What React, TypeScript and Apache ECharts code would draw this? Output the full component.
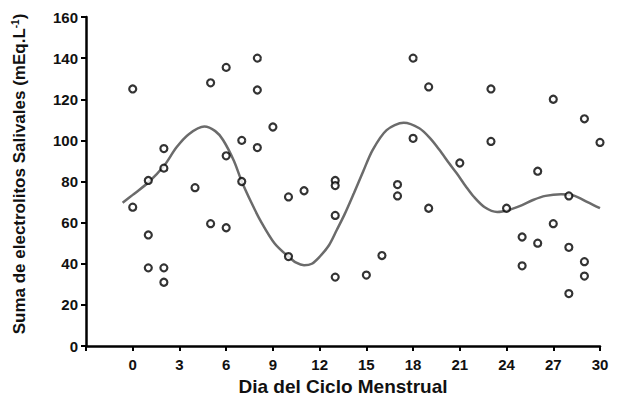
import React, { useEffect, useRef } from "react";
import * as echarts from "echarts";

// Scatter observations (day of menstrual cycle, salivary electrolytes sum)
const pointDays = [
  0, 0,
  1, 1, 1,
  2, 2, 2, 2,
  4,
  5, 5,
  6, 6, 6,
  7, 7,
  8, 8, 8,
  9,
  10, 10,
  11,
  13, 13, 13, 13,
  15,
  16,
  17, 17,
  18, 18,
  19, 19,
  21,
  23, 23,
  24,
  25, 25,
  26, 26,
  27, 27,
  28, 28, 28,
  29, 29, 29,
  30,
];
const pointValues = [
  125, 67.5,
  80.5, 54, 38,
  96, 86.5, 38, 31,
  77,
  128, 59.5,
  135.5, 92.5, 57.5,
  100, 80,
  140, 124.5, 96.5,
  106.5,
  72.5, 43.5,
  75.5,
  80.5, 78, 63.5, 33.5,
  34.5,
  44,
  78.5, 73,
  140, 101,
  126, 67,
  89,
  125, 99.5,
  67,
  53, 39,
  85, 50,
  120, 59.5,
  73, 48, 25.5,
  110.5, 41, 34,
  99,
];

// Fitted curve
const curveDays = [
  -0.65, 0, 1, 2, 2.8, 3.6, 4.6, 5.3, 5.8, 6.5, 7, 7.6, 8.2, 9.1, 10, 10.5, 11,
  11.5, 12, 12.6, 13.1, 13.6, 14.2, 14.8, 15.4, 16.3, 17.4, 18.4, 19.1, 19.7,
  20.3, 20.8, 21.4, 21.9, 22.6, 23.4, 24.2, 25, 25.7, 26.5, 27.5, 28.3, 29.2, 30,
];
const curveValues = [
  69.7, 73.5, 79.5, 87.5, 96.5, 103, 106.7, 104.5, 100.2, 90, 80, 70, 61, 50,
  43.4, 40.5, 39.3, 40, 43.4, 49, 56.4, 64, 74.3, 85, 95.3, 105, 108.6, 105.9,
  101, 95.3, 89, 84, 77.5, 72.6, 67.5, 65.2, 66.3, 68.5, 71, 73, 73.8, 73.2, 70,
  67,
];

const xTitle = "Dia del Ciclo Menstrual";
const yTitleMain = "Suma de electrolitos Salivales (mEq.L";
const yTitleSup = "-1";
const yTitleEnd = ")";

const FONT = "'Liberation Sans', Arial, Helvetica, sans-serif";

export default function App() {
  const ref = useRef<HTMLDivElement>(null);

  useEffect(() => {
    document.body.style.margin = "0";
    if (!ref.current) return;
    const chart = echarts.init(ref.current, undefined, { renderer: "svg" });

    const scatterData = pointDays.map((d, i) => [d, pointValues[i]]);
    const curveData = curveDays.map((d, i) => [d, curveValues[i]]);

    chart.setOption({
      animation: false,
      backgroundColor: "#ffffff",
      textStyle: { fontFamily: FONT },
      grid: {
        left: 86,
        right: 18,
        top: 17,
        bottom: 50,
        containLabel: false,
        outerBoundsMode: "none",
      },
      xAxis: {
        type: "value",
        min: -3,
        max: 30,
        interval: 3,
        name: xTitle,
        nameLocation: "middle",
        nameGap: 31,
        nameTextStyle: {
          fontFamily: FONT,
          fontWeight: "bold",
          fontSize: 19,
          color: "#111",
        },
        axisLine: { show: true, onZero: false, lineStyle: { color: "#000", width: 2.5 } },
        axisTick: { show: true, length: 5, lineStyle: { color: "#000", width: 2 } },
        axisLabel: {
          fontFamily: FONT,
          fontWeight: "bold",
          fontSize: 15,
          color: "#111",
          margin: 11,
          formatter: (v: number) => (v < 0 ? "" : String(v)),
        },
        splitLine: { show: false },
      },
      yAxis: {
        type: "value",
        min: 0,
        max: 160,
        interval: 20,
        axisLine: { show: true, onZero: false, lineStyle: { color: "#000", width: 2.5 } },
        axisTick: { show: true, length: 5, lineStyle: { color: "#000", width: 2 } },
        axisLabel: {
          fontFamily: FONT,
          fontWeight: "bold",
          fontSize: 15,
          color: "#111",
          margin: 8,
        },
        splitLine: { show: false },
      },
      graphic: [
        {
          type: "text",
          x: 19,
          y: 174,
          rotation: Math.PI / 2,
          style: {
            text: `{m|${yTitleMain}}{s|${yTitleSup}}{m|${yTitleEnd}}`,
            align: "center",
            verticalAlign: "middle",
            rich: {
              m: { fontFamily: FONT, fontWeight: "bold", fontSize: 17, fill: "#111" },
              s: {
                fontFamily: FONT,
                fontWeight: "bold",
                fontSize: 10,
                fill: "#111",
                verticalAlign: "top",
                padding: [0, 0, 8, 0],
              },
            },
          },
        },
      ],
      series: [
        {
          type: "line",
          data: curveData,
          smooth: 0.3,
          showSymbol: false,
          symbol: "none",
          lineStyle: { color: "#6b6b6b", width: 2.5 },
          z: 2,
        },
        {
          type: "scatter",
          data: scatterData,
          symbol: "circle",
          symbolSize: 7,
          itemStyle: { color: "#ffffff", borderColor: "#000", borderWidth: 2.2 },
          z: 3,
        },
      ],
    });

    return () => chart.dispose();
  }, []);

  return <div ref={ref} style={{ width: 618, height: 396 }} />;
}
